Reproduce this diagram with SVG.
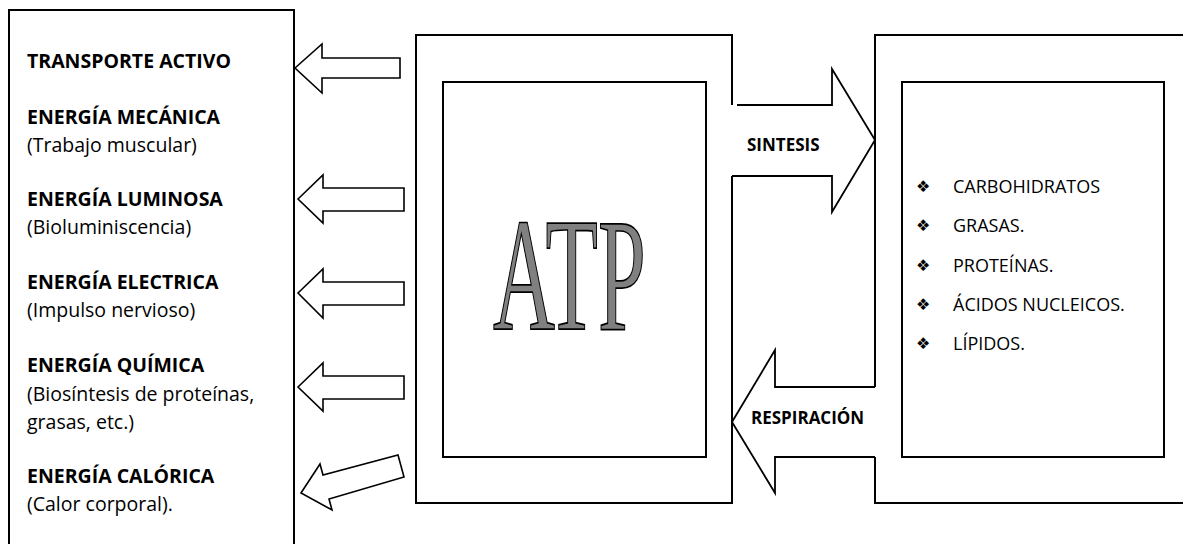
<svg xmlns="http://www.w3.org/2000/svg" width="1183" height="544" viewBox="0 0 1183 544">
  <style>
    .frame { fill: none; stroke: #000; stroke-width: 2; }
    .block { fill: #fff; stroke: #000; stroke-width: 1.6; stroke-linejoin: miter; }
    .open { fill: none; stroke: #000; stroke-width: 1.8; stroke-linejoin: miter; }
    .t { font-family: "Open Sans", "Liberation Sans", sans-serif; font-size: 19.5px; fill: #000; }
    .b { font-weight: bold; }
    .lbl { font-family: "Open Sans", "Liberation Sans", sans-serif; font-size: 17px; font-weight: bold; fill: #000; }
    .item { font-family: "Open Sans", "Liberation Sans", sans-serif; font-size: 18px; fill: #000; }
    .bullet { font-family: "DejaVu Sans", sans-serif; font-size: 16px; fill: #000; }
    .atp { font-family: "Liberation Serif", "Times New Roman", serif; font-size: 162px; fill: #808080; stroke: #000; stroke-width: 1.4; vector-effect: non-scaling-stroke; }
  </style>
  <rect width="1183" height="544" fill="#fff"/>

  <!-- forms of energy released by ATP -->
  <g id="energy-uses">
    <path class="frame" d="M9,560 V10 H294 V560"/>
    <text class="t b" x="27" y="68">TRANSPORTE ACTIVO</text>
    <text class="t b" x="27" y="124">ENERGÍA MECÁNICA</text>
    <text class="t" x="27" y="152">(Trabajo muscular)</text>
    <text class="t b" x="27" y="206">ENERGÍA LUMINOSA</text>
    <text class="t" x="27" y="234">(Bioluminiscencia)</text>
    <text class="t b" x="27" y="289">ENERGÍA ELECTRICA</text>
    <text class="t" x="27" y="317">(Impulso nervioso)</text>
    <text class="t b" x="27" y="372">ENERGÍA QUÍMICA</text>
    <text class="t" x="27" y="401">(Biosíntesis de proteínas,</text>
    <text class="t" x="27" y="429">grasas, etc.)</text>
    <text class="t b" x="27" y="483">ENERGÍA CALÓRICA</text>
    <text class="t" x="27" y="511">(Calor corporal).</text>
  </g>

  <!-- ATP: outer frame is open where the two big arrows meet it -->
  <g id="atp">
    <path class="frame" d="M732,105 V35 H416 V503 H732 V176"/>
    <rect class="frame" x="443" y="82" width="263" height="375"/>
    <text class="atp" transform="translate(493,329) scale(0.53,1)" x="0" y="0">ATP</text>
  </g>

  <!-- macromolecules -->
  <g id="biomolecules">
    <path class="frame" d="M875,387 V35 H1190"/>
    <path class="frame" d="M875,457 V503 H1190"/>
    <rect class="frame" x="902" y="82" width="262" height="375"/>
    <text class="bullet" x="916" y="192">❖</text>
    <text class="item" x="953" y="193">CARBOHIDRATOS</text>
    <text class="bullet" x="916" y="231">❖</text>
    <text class="item" x="953" y="232">GRASAS.</text>
    <text class="bullet" x="916" y="271">❖</text>
    <text class="item" x="953" y="272">PROTEÍNAS.</text>
    <text class="bullet" x="916" y="310">❖</text>
    <text class="item" x="953" y="311">ÁCIDOS NUCLEICOS.</text>
    <text class="bullet" x="916" y="349">❖</text>
    <text class="item" x="953" y="350">LÍPIDOS.</text>
  </g>

  <!-- block arrows -->
  <g id="connectors">
    <polygon class="block" points="295,68 322,44 322,58 400,58 400,78 322,78 322,93"/>
    <polygon class="block" points="298,199 323,175 323,188 404,188 404,211 323,211 323,223"/>
    <polygon class="block" points="298,293 323,269 323,282 404,282 404,305 323,305 323,318"/>
    <polygon class="block" points="298,387 323,363 323,376 404,376 404,399 323,399 323,411"/>
    <polygon class="block" points="301,493 320,464 323,475 398,455 404,477 329,499 332,510"/>

    <path class="open" d="M737,105 H832 V69 L875,140 L832,212 V176 H732"/>
    <text class="lbl" x="747" y="151">SINTESIS</text>

    <path class="open" d="M875,387 H775 V350 L732,422 L775,493 V457 H875"/>
    <text class="lbl" x="751" y="424">RESPIRACIÓN</text>
  </g>
</svg>
